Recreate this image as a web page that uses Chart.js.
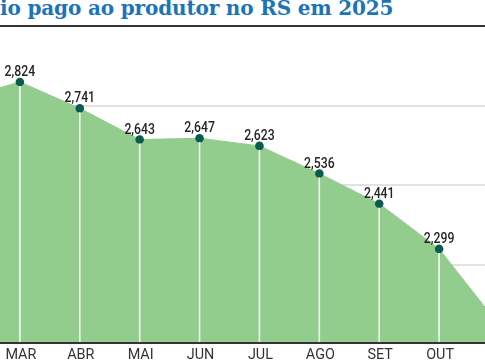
<!DOCTYPE html>
<html>
<head>
<meta charset="utf-8">
<script src="https://cdn.jsdelivr.net/npm/chart.js@4/dist/chart.umd.min.js"></script>
<style>
  html, body { margin: 0; padding: 0; background: #fff; overflow: hidden; }
  body { width: 485px; height: 360px; position: relative; }
  #title { position: absolute; left: 0; top: -4px; font-family: "DejaVu Serif", serif; font-weight: bold; font-size: 20px; color: #1b74ba; white-space: nowrap; letter-spacing: -0.15px; }
  #rule { position: absolute; left: 0; top: 25px; width: 485px; height: 2px; background: #333; }
  #wrap { position: absolute; left: -40px; top: 0; width: 540px; height: 360px; }
</style>
</head>
<body>
<div id="title">io pago ao produtor no RS em 2025</div>
<div id="rule"></div>
<div id="wrap"><canvas id="c"></canvas></div>
<script>
// Months (FEV and NOV lie just outside the visible crop)
const months = ["FEV", "MAR", "ABR", "MAI", "JUN", "JUL", "AGO", "SET", "OUT", "NOV"];
// Price paid to producer (R$/litro)
const prices = [2.770, 2.824, 2.741, 2.643, 2.647, 2.623, 2.536, 2.441, 2.299, 2.060];
// Y axis gridline values
const yTicks = [2.0, 2.25, 2.5, 2.75, 3.0];
const visibleGrid = [2.25, 2.5, 2.75];

const fmt = v => v.toFixed(3).replace('.', ',');

function narrowText(ctx, text, x, y, sx) {
  ctx.save();
  ctx.translate(x, y);
  ctx.scale(sx, 1);
  ctx.fillText(text, 0, 0);
  ctx.restore();
}

const decor = {
  id: 'decor',
  afterDatasetsDraw(chart) {
    const ctx = chart.ctx;
    const meta = chart.getDatasetMeta(0);
    const area = chart.chartArea;
    ctx.save();
    // white drop lines
    ctx.strokeStyle = '#ffffff';
    ctx.lineWidth = 1.5;
    meta.data.forEach((pt, i) => {
      if (i === 0 || i === meta.data.length - 1) return;
      ctx.beginPath();
      ctx.moveTo(pt.x, pt.y + 4);
      ctx.lineTo(pt.x, area.bottom);
      ctx.stroke();
    });
    // baseline axis line
    ctx.strokeStyle = '#333333';
    ctx.lineWidth = 2;
    ctx.beginPath();
    ctx.moveTo(0, 343);
    ctx.lineTo(chart.width, 343);
    ctx.stroke();
    // value labels
    ctx.fillStyle = '#262626';
    ctx.textAlign = 'center';
    ctx.textBaseline = 'alphabetic';
    ctx.font = '500 15.5px Roboto, sans-serif';
    meta.data.forEach((pt, i) => {
      if (i === 0 || i === meta.data.length - 1) return;
      narrowText(ctx, fmt(prices[i]), pt.x, pt.y - 6, 0.79);
    });
    // month labels
    ctx.fillStyle = '#333333';
    ctx.font = '15.5px Roboto, sans-serif';
    const xs = chart.scales.x;
    months.forEach((m, i) => {
      if (i === 0 || i === months.length - 1) return;
      narrowText(ctx, m, xs.getPixelForValue(i) + 1, 359, 0.93);
    });
    ctx.restore();
  }
};

new Chart(document.getElementById('c'), {
  type: 'line',
  data: {
    labels: months,
    datasets: [{
      data: prices,
      fill: 'start',
      backgroundColor: '#93cd8e',
      borderColor: '#93cd8e',
      borderWidth: 1,
      tension: 0,
      pointRadius: 4.3,
      pointHoverRadius: 4.3,
      pointBackgroundColor: '#0b5c50',
      pointBorderWidth: 0
    }]
  },
  options: {
    responsive: true,
    maintainAspectRatio: false,
    animation: false,
    events: [],
    layout: { autoPadding: false, padding: { left: 0, right: 1, top: 26, bottom: 16 } },
    plugins: { legend: { display: false }, tooltip: { enabled: false }, title: { display: false } },
    scales: {
      x: { display: false, offset: false },
      y: {
        display: true,
        min: 2.0,
        max: 3.0,
        afterFit: (s) => { s.width = 0; },
        afterBuildTicks: (s) => { s.ticks = yTicks.map(v => ({ value: v })); },
        ticks: { display: false },
        border: { display: false },
        grid: {
          drawTicks: false,
          lineWidth: 2,
          color: (c) => visibleGrid.some(v => Math.abs(v - c.tick.value) < 1e-6) ? '#e2e2e2' : 'rgba(0,0,0,0)'
        }
      }
    }
  },
  plugins: [decor]
});
</script>
</body>
</html>
